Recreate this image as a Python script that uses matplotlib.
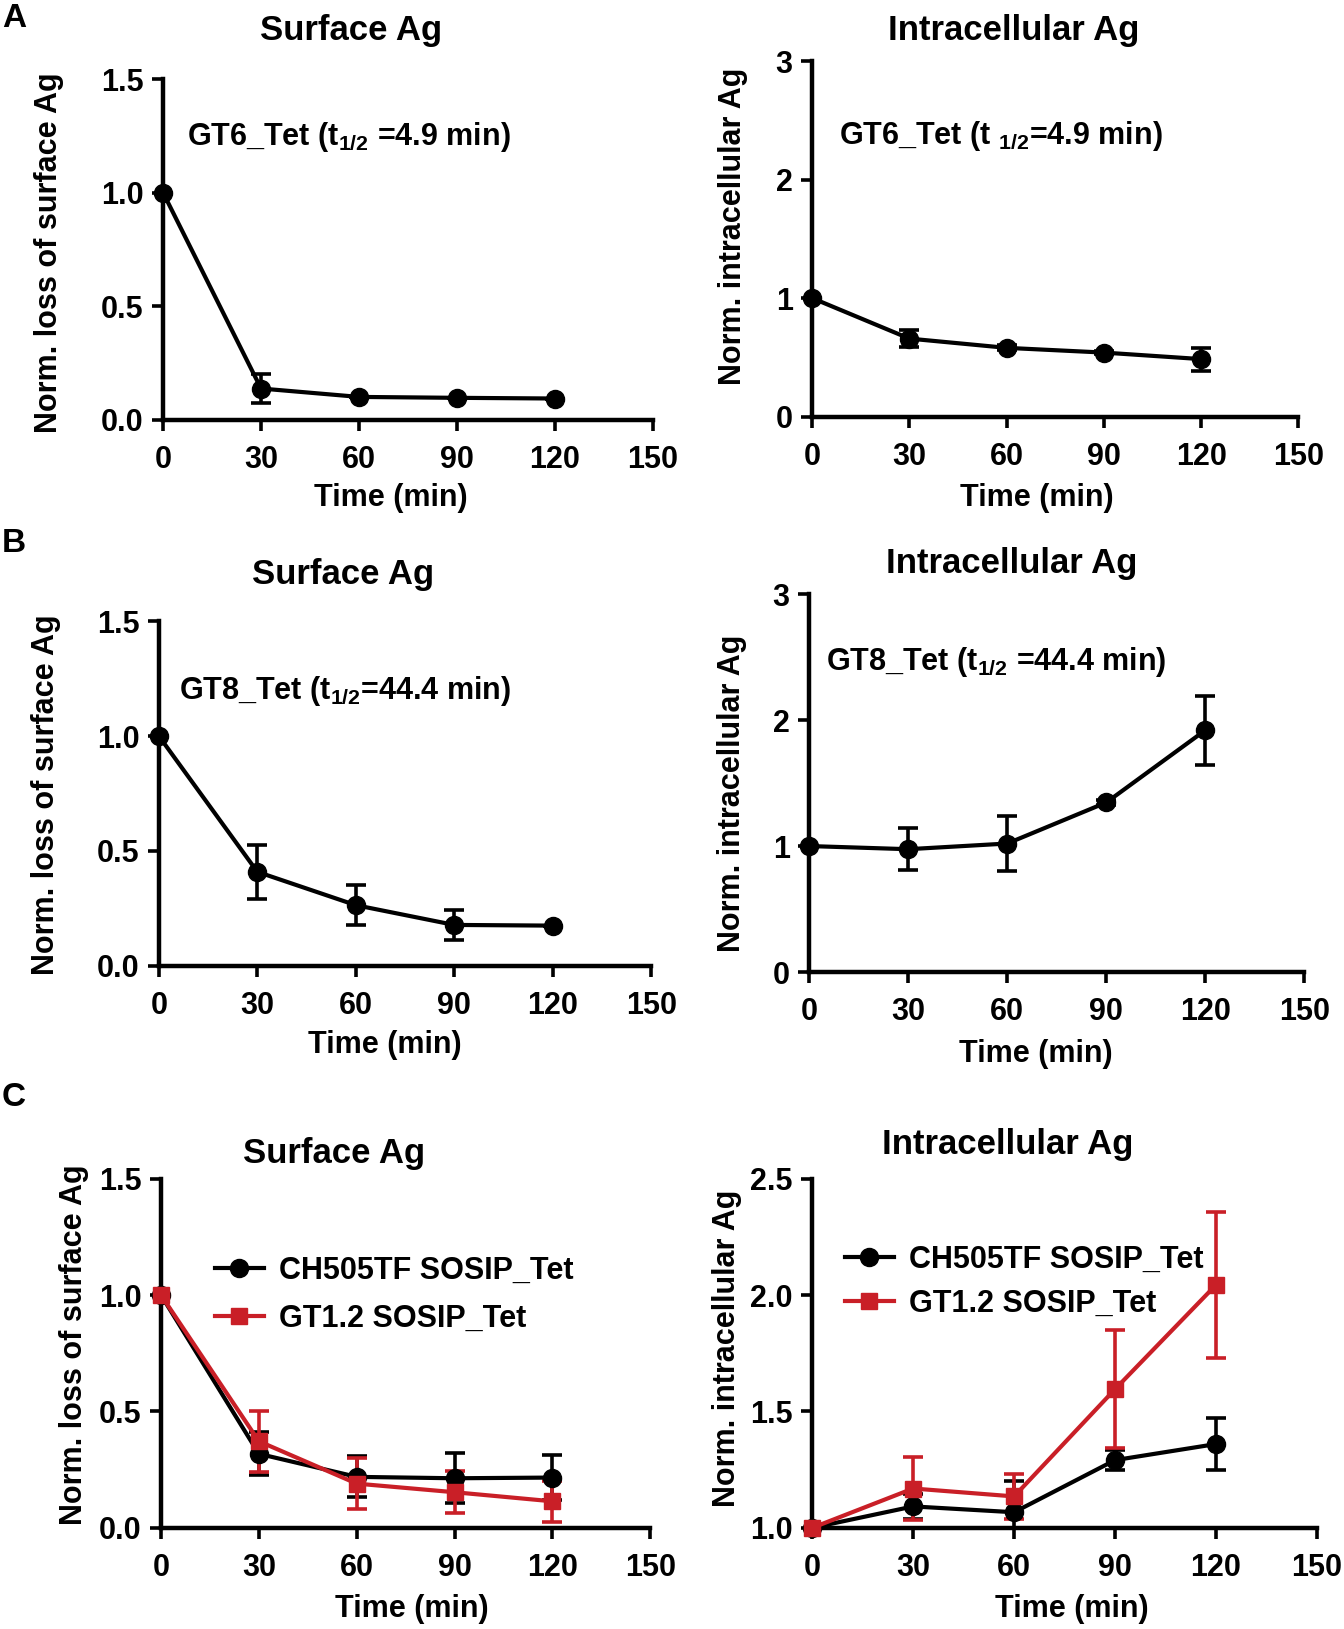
import matplotlib
matplotlib.use("Agg")
import matplotlib.pyplot as plt
from matplotlib.lines import Line2D

plt.rcParams['font.family'] = ['Liberation Sans', 'DejaVu Sans']
plt.rcParams['font.weight'] = 'bold'
plt.rcParams['mathtext.fontset'] = 'custom'
plt.rcParams['mathtext.rm'] = 'Liberation Sans:bold'
plt.rcParams['mathtext.it'] = 'Liberation Sans:bold'
plt.rcParams['mathtext.bf'] = 'Liberation Sans:bold'

time = [0, 30, 60, 90, 120]
xticks = [0, 30, 60, 90, 120, 150]

# Panel A
a_surf = [1.0, 0.137, 0.10, 0.096, 0.093]
a_surf_err = [0.0, 0.064, 0.0, 0.0, 0.0]
a_intra = [1.0, 0.658, 0.58, 0.54, 0.485]
a_intra_err = [0.0, 0.075, 0.02, 0.015, 0.097]

# Panel B
b_surf = [1.0, 0.409, 0.264, 0.178, 0.175]
b_surf_err = [0.0, 0.117, 0.088, 0.065, 0.0]
b_intra = [1.0, 0.975, 1.02, 1.346, 1.92]
b_intra_err = [0.0, 0.165, 0.22, 0.02, 0.275]

# Panel C
c_labels = ['CH505TF SOSIP_Tet', 'GT1.2 SOSIP_Tet']
c_surf_black = [1.0, 0.318, 0.219, 0.213, 0.216]
c_surf_black_err = [0.0, 0.093, 0.088, 0.107, 0.097]
c_surf_red = [1.0, 0.372, 0.190, 0.153, 0.114]
c_surf_red_err = [0.0, 0.131, 0.11, 0.09, 0.088]
c_intra_black = [1.0, 1.092, 1.067, 1.291, 1.360]
c_intra_black_err = [0.0, 0.055, 0.135, 0.042, 0.11]
c_intra_red = [1.0, 1.169, 1.135, 1.596, 2.044]
c_intra_red_err = [0.0, 0.135, 0.098, 0.255, 0.315]

RED = '#c91f27'
BLACK = '#000000'

fig = plt.figure(figsize=(13.44, 16.29), dpi=100)


def setup(ax, ylim, yticks, ylabels, ylab_xy, xlab_xy):
    for s in ['top', 'right']:
        ax.spines[s].set_visible(False)
    for s in ['left', 'bottom']:
        ax.spines[s].set_linewidth(3.2)
    ax.set_xlim(0, 150)
    ax.set_xticks(xticks)
    ax.set_ylim(*ylim)
    ax.set_yticks(yticks)
    ax.set_yticklabels(ylabels)
    ax.tick_params(width=2.6, length=8, labelsize=22, pad=6)
    ax.tick_params(axis='x', pad=10)
    ax.set_xlabel('Time (min)', fontsize=22, fontweight='bold')
    ax.xaxis.label.set_verticalalignment('center')
    ax.yaxis.label.set_verticalalignment('center')
    ax.xaxis.set_label_coords(*xlab_xy)
    ax.yaxis.set_label_coords(*ylab_xy)


def draw(ax, y, err, color, marker, ms=13):
    ax.errorbar(time, y, yerr=err, fmt='none', ecolor=color, elinewidth=2.6,
                capsize=7, capthick=2.6, zorder=3)
    ax.plot(time, y, color=color, marker=marker, ms=ms, lw=3, clip_on=False,
            zorder=4)


# ---------------- Panel A ----------------
ax = fig.add_axes([0.1213, 0.7424, 0.3646, 0.2091])
draw(ax, a_surf, a_surf_err, BLACK, 'o')
ax.set_ylabel('Norm. loss of surface Ag', fontsize=22, fontweight='bold')
setup(ax, (0, 1.5), [0, 0.5, 1.0, 1.5], ['0.0', '0.5', '1.0', '1.5'],
      (-0.233, 0.49), (0.464, -0.229))
ax.text(7.3, 1.245, 'GT6_Tet (t$_{1/2}$ =4.9 min)', fontsize=22,
        va='center', ha='left')

ax = fig.add_axes([0.6043, 0.7443, 0.3617, 0.2181])
draw(ax, a_intra, a_intra_err, BLACK, 'o')
ax.set_ylabel('Norm. intracellular Ag', fontsize=22, fontweight='bold')
setup(ax, (0, 3), [0, 1, 2, 3], ['0', '1', '2', '3'],
      (-0.162, 0.535), (0.4615, -0.228))
ax.text(8.3, 2.37, 'GT6_Tet (t $_{1/2}$=4.9 min)', fontsize=22,
        va='center', ha='left')

# ---------------- Panel B ----------------
ax = fig.add_axes([0.1182, 0.4071, 0.3663, 0.2116])
draw(ax, b_surf, b_surf_err, BLACK, 'o')
ax.set_ylabel('Norm. loss of surface Ag', fontsize=22, fontweight='bold')
setup(ax, (0, 1.5), [0, 0.5, 1.0, 1.5], ['0.0', '0.5', '1.0', '1.5'],
      (-0.230, 0.497), (0.458, -0.229))
ax.text(6.0, 1.198, 'GT8_Tet (t$_{1/2}$=44.4 min)', fontsize=22,
        va='center', ha='left')

ax = fig.add_axes([0.602, 0.4033, 0.3686, 0.232])
draw(ax, b_intra, b_intra_err, BLACK, 'o')
ax.set_ylabel('Norm. intracellular Ag', fontsize=22, fontweight='bold')
setup(ax, (0, 3), [0, 1, 2, 3], ['0', '1', '2', '3'],
      (-0.155, 0.473), (0.457, -0.217))
ax.text(5.0, 2.46, 'GT8_Tet (t$_{1/2}$ =44.4 min)', fontsize=22,
        va='center', ha='left')

# ---------------- Panel C ----------------
handles = [Line2D([], [], color=BLACK, marker='o', ms=13, lw=3),
           Line2D([], [], color=RED, marker='s', ms=12, lw=3)]

ax = fig.add_axes([0.1198, 0.0621, 0.364, 0.2143])
draw(ax, c_surf_black, c_surf_black_err, BLACK, 'o')
draw(ax, c_surf_red, c_surf_red_err, RED, 's', ms=12)
ax.set_ylabel('Norm. loss of surface Ag', fontsize=22, fontweight='bold')
setup(ax, (0, 1.5), [0, 0.5, 1.0, 1.5], ['0.0', '0.5', '1.0', '1.5'],
      (-0.178, 0.524), (0.512, -0.232))
ax.legend(handles, c_labels, loc='upper left', bbox_to_anchor=(0.11, 0.78),
          frameon=False, fontsize=22, handlelength=1.6, handletextpad=0.5,
          borderpad=0, borderaxespad=0, labelspacing=0.6)

ax = fig.add_axes([0.6043, 0.0621, 0.3756, 0.2143])
draw(ax, c_intra_black, c_intra_black_err, BLACK, 'o')
draw(ax, c_intra_red, c_intra_red_err, RED, 's', ms=12)
ax.set_ylabel('Norm. intracellular Ag', fontsize=22, fontweight='bold')
setup(ax, (1.0, 2.5), [1.0, 1.5, 2.0, 2.5], ['1.0', '1.5', '2.0', '2.5'],
      (-0.169, 0.515), (0.514, -0.232))
ax.legend(handles, c_labels, loc='upper left', bbox_to_anchor=(0.065, 0.81),
          frameon=False, fontsize=22, handlelength=1.6, handletextpad=0.5,
          borderpad=0, borderaxespad=0, labelspacing=0.45)

# ---------------- Titles and panel letters ----------------
titles = [(0.261, 0.981, 'Surface Ag'), (0.754, 0.981, 'Intracellular Ag'),
          (0.255, 0.6474, 'Surface Ag'), (0.7527, 0.6538, 'Intracellular Ag'),
          (0.2488, 0.2917, 'Surface Ag'), (0.7496, 0.2974, 'Intracellular Ag')]
for x, y, t in titles:
    fig.text(x, y, t, fontsize=25, fontweight='bold', ha='center', va='center')

for y, t in [(0.9885, 'A'), (0.6666, 'B'), (0.3263, 'C')]:
    fig.text(0.0105, y, t, fontsize=24, fontweight='bold', ha='center',
             va='center')

fig.savefig('out.png', dpi=100)
